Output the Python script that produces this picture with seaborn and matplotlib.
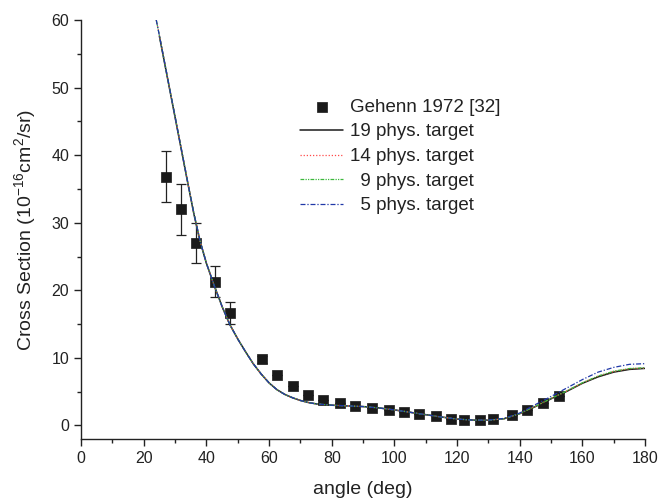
import numpy as np
import pandas as pd
import matplotlib
matplotlib.use("Agg")
import matplotlib.pyplot as plt
import seaborn as sns
from matplotlib.ticker import MultipleLocator

sns.set_theme(style="ticks")
plt.rcParams['font.family'] = ['Liberation Sans', 'DejaVu Sans']
plt.rcParams['mathtext.fontset'] = 'custom'
plt.rcParams['mathtext.rm'] = 'Liberation Sans'

# Experimental data (Gehenn 1972)
exp_angle = [27.1, 31.9, 36.6, 42.7, 47.4, 57.6, 62.4, 67.5, 72.4, 77.2, 82.6, 87.4,
             92.8, 98.2, 103.2, 107.8, 113.3, 118.0, 122.3, 127.2, 131.4, 137.6,
             142.3, 147.4, 152.5]
exp_value = [36.8, 32.0, 27.0, 21.3, 16.6, 9.8, 7.4, 5.8, 4.5, 3.75, 3.3, 2.9,
             2.65, 2.36, 1.97, 1.67, 1.33, 0.99, 0.74, 0.74, 0.93, 1.52,
             2.32, 3.3, 4.43]
exp_err = [3.75, 3.75, 3.0, 2.35, 1.65, 0.5, 0.0, 0.0, 0.0, 0.0, 0.0, 0.0,
           0.0, 0.0, 0.0, 0.0, 0.0, 0.0, 0.0, 0.0, 0.0, 0.0,
           0.0, 0.0, 0.0]

# Theory curves
th_angle = [24, 25, 26, 28, 30, 32, 34, 36, 38, 40, 42.5, 45, 47.5, 50, 52.5, 55,
            57.5, 60, 62.5, 65, 67.5, 70, 72.5, 75, 77.5, 80, 85, 90, 95, 100,
            105, 110, 115, 120, 125, 130, 135, 140, 145, 150, 155, 160, 165,
            170, 175, 180]
t19 = [np.nan, 57.6, 55.2, 50.4, 45.6, 40.8, 36.0, 31.3, 27.2, 24.0, 20.7, 17.6,
       14.9, 12.8, 10.9, 9.1, 7.6, 6.3, 5.3, 4.6, 4.1, 3.7, 3.4, 3.2, 3.1, 3.0,
       2.9, 2.8, 2.6, 2.3, 1.95, 1.6, 1.25, 0.95, 0.8, 0.78, 1.0, 1.75, 2.8,
       3.95, 5.05, 6.25, 7.2, 7.9, 8.3, 8.45]
t14 = [60.0, 57.7, 55.3, 50.5, 45.7, 40.9, 36.1, 31.4, 27.3, 24.0, 20.7, 17.6,
       14.9, 12.8, 10.9, 9.1, 7.6, 6.3, 5.3, 4.6, 4.1, 3.7, 3.4, 3.2, 3.1, 3.0,
       2.9, 2.8, 2.6, 2.3, 1.95, 1.6, 1.25, 0.95, 0.8, 0.78, 1.0, 1.77, 2.85,
       4.0, 5.1, 6.3, 7.3, 8.0, 8.4, 8.5]
t9 = [60.0, 57.7, 55.3, 50.5, 45.7, 40.9, 36.1, 31.4, 27.3, 24.0, 20.7, 17.6,
      14.9, 12.8, 10.9, 9.1, 7.6, 6.3, 5.3, 4.6, 4.1, 3.7, 3.4, 3.2, 3.1, 3.0,
      2.9, 2.8, 2.6, 2.3, 1.95, 1.6, 1.25, 0.95, 0.8, 0.78, 1.0, 1.77, 2.85,
      4.0, 5.12, 6.33, 7.32, 8.03, 8.43, 8.55]
t5 = [60.0, 57.7, 55.3, 50.5, 45.7, 40.9, 36.1, 31.4, 27.3, 24.0, 20.7, 17.6,
      14.9, 12.8, 10.9, 9.1, 7.6, 6.3, 5.3, 4.6, 4.1, 3.7, 3.4, 3.2, 3.1, 3.0,
      2.9, 2.8, 2.6, 2.3, 1.95, 1.6, 1.25, 0.95, 0.8, 0.8, 1.05, 1.85, 3.1,
      4.3, 5.55, 6.8, 7.9, 8.6, 9.05, 9.15]

labels = ["19 phys. target", "14 phys. target", "\u20079 phys. target", "\u20075 phys. target"]
series = [t19, t14, t9, t5]
colors = ["#1a1a1a", "#ff4a4a", "#3cb83c", "#2038a8"]
styles = ["-", (0, (1, 1.5)), (0, (3, 1, 1, 1, 1, 1)), (0, (4, 1.5, 1, 1.5))]

fig = plt.figure(figsize=(6.59, 5.0), dpi=100)
ax = fig.add_axes([0.123, 0.122, 0.856, 0.838])

df_exp = pd.DataFrame({"angle": exp_angle, "value": exp_value})
ax.errorbar(exp_angle, exp_value, yerr=exp_err, fmt="none", ecolor="#222222",
            elinewidth=0.9, capsize=3.5, capthick=0.9, zorder=3)
sns.scatterplot(data=df_exp, x="angle", y="value", marker="s", s=52,
                color="#1a1a1a", edgecolor="#1a1a1a", linewidth=0.5, ax=ax,
                label="Gehenn 1972 [32]", zorder=4)

for lab, vals, c, ls in zip(labels, series, colors, styles):
    d = pd.DataFrame({"angle": th_angle, "value": vals})
    sns.lineplot(data=d, x="angle", y="value", color=c, linestyle=ls,
                 linewidth=1.1 if c == "#1a1a1a" else 0.9, ax=ax, label=lab,
                 zorder=2 if c == "#1a1a1a" else 5)

ax.set_xlim(0, 180)
ax.set_ylim(-2, 60)
ax.xaxis.set_major_locator(MultipleLocator(20))
ax.xaxis.set_minor_locator(MultipleLocator(10))
ax.yaxis.set_major_locator(MultipleLocator(10))
ax.yaxis.set_minor_locator(MultipleLocator(5))
ax.tick_params(which="major", direction="out", length=5, width=1, labelsize=11.5,
               colors="#222222")
ax.tick_params(which="minor", direction="out", length=3, width=1, colors="#222222")
for s in ["top", "right"]:
    ax.spines[s].set_visible(False)
for s in ["left", "bottom"]:
    ax.spines[s].set_color("#222222")
    ax.spines[s].set_linewidth(1.0)

ax.set_xlabel("angle (deg)", fontsize=14, color="#222222", labelpad=11)
ax.set_ylabel("Cross Section (10$^{\\mathregular{-16}}$cm$^{\\mathregular{2}}$/sr)",
              fontsize=14, color="#222222", labelpad=9)

leg = ax.legend(loc="upper left", bbox_to_anchor=(0.375, 0.83), frameon=False,
                fontsize=13.5, handlelength=2.3, handletextpad=0.37,
                labelspacing=0.4, borderaxespad=0)
for t in leg.get_texts():
    t.set_color("#222222")

fig.savefig("out.png", dpi=100)
